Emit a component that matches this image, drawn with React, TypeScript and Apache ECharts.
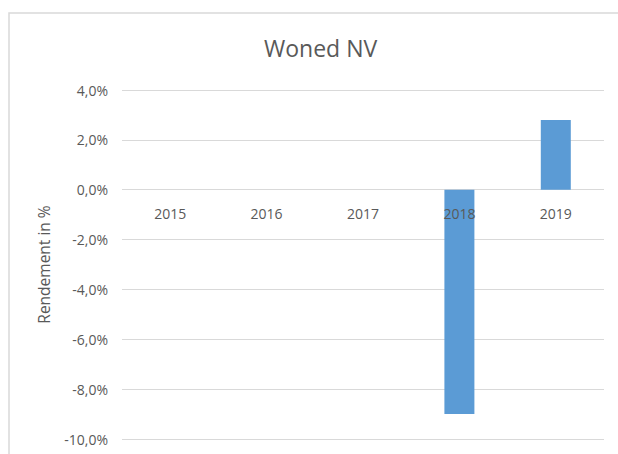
import React, { useEffect, useRef } from "react";
import * as echarts from "echarts";

const categories = ["2015", "2016", "2017", "2018", "2019"];
const rendement: (number | null)[] = [null, null, null, -9.0, 2.8];
const yMin = -10;
const yMax = 4;
const yInterval = 2;

export default function App() {
  const ref = useRef<HTMLDivElement>(null);
  useEffect(() => {
    if (!ref.current) return;
    const chart = echarts.init(ref.current, undefined, { renderer: "svg" });
    const font = "'Open Sans', 'Liberation Sans', sans-serif";
    const gridTop = 90;
    const gridBottom = 15;
    const plotH = 454 - gridTop - gridBottom;
    const zeroOffset = -Math.round((0 - yMin) / (yMax - yMin) * plotH);
    chart.setOption({
      animation: false,
      backgroundColor: "#ffffff",
      textStyle: { fontFamily: font },
      title: {
        text: "Woned NV",
        left: 259,
        top: 31,
        textStyle: { fontFamily: font, fontSize: 23, fontWeight: "normal", color: "#595959" },
      },
      graphic: [
        {
          type: "rect",
          shape: { x: 9, y: 13, width: 800, height: 600 },
          style: { fill: "none", stroke: "#D9D9D9", lineWidth: 1.5 },
          silent: true,
          z: -1,
        },
      ],
      grid: { left: 122, right: 14, top: gridTop, bottom: gridBottom, containLabel: false, outerBoundsMode: "none" },
      xAxis: {
        type: "category",
        data: categories,
        position: "bottom",
        offset: zeroOffset,
        z: 5,
        axisLine: { show: false, onZero: false },
        axisTick: { show: false },
        axisLabel: { color: "#595959", fontSize: 14, fontFamily: font, margin: 16 },
      },
      yAxis: {
        type: "value",
        min: yMin,
        max: yMax,
        interval: yInterval,
        name: "Rendement in %",
        nameLocation: "middle",
        nameRotate: 90,
        nameGap: 70,
        nameTextStyle: { color: "#595959", fontSize: 15.5, fontFamily: font },
        axisLine: { show: false },
        axisTick: { show: false },
        axisLabel: {
          color: "#595959",
          fontSize: 14,
          fontFamily: font,
          margin: 14,
          formatter: (v: number) => v.toFixed(1).replace(".", ",") + "%",
        },
        splitLine: { lineStyle: { color: "#D9D9D9", width: 1 } },
      },
      series: [
        {
          type: "bar",
          data: rendement,
          barWidth: 30,
          itemStyle: { color: "#5B9BD5" },
        },
      ],
    });
    return () => chart.dispose();
  }, []);
  return (
    <div
      ref={ref}
      style={{ position: "fixed", left: 0, top: 0, width: 618, height: 454 }}
    />
  );
}
